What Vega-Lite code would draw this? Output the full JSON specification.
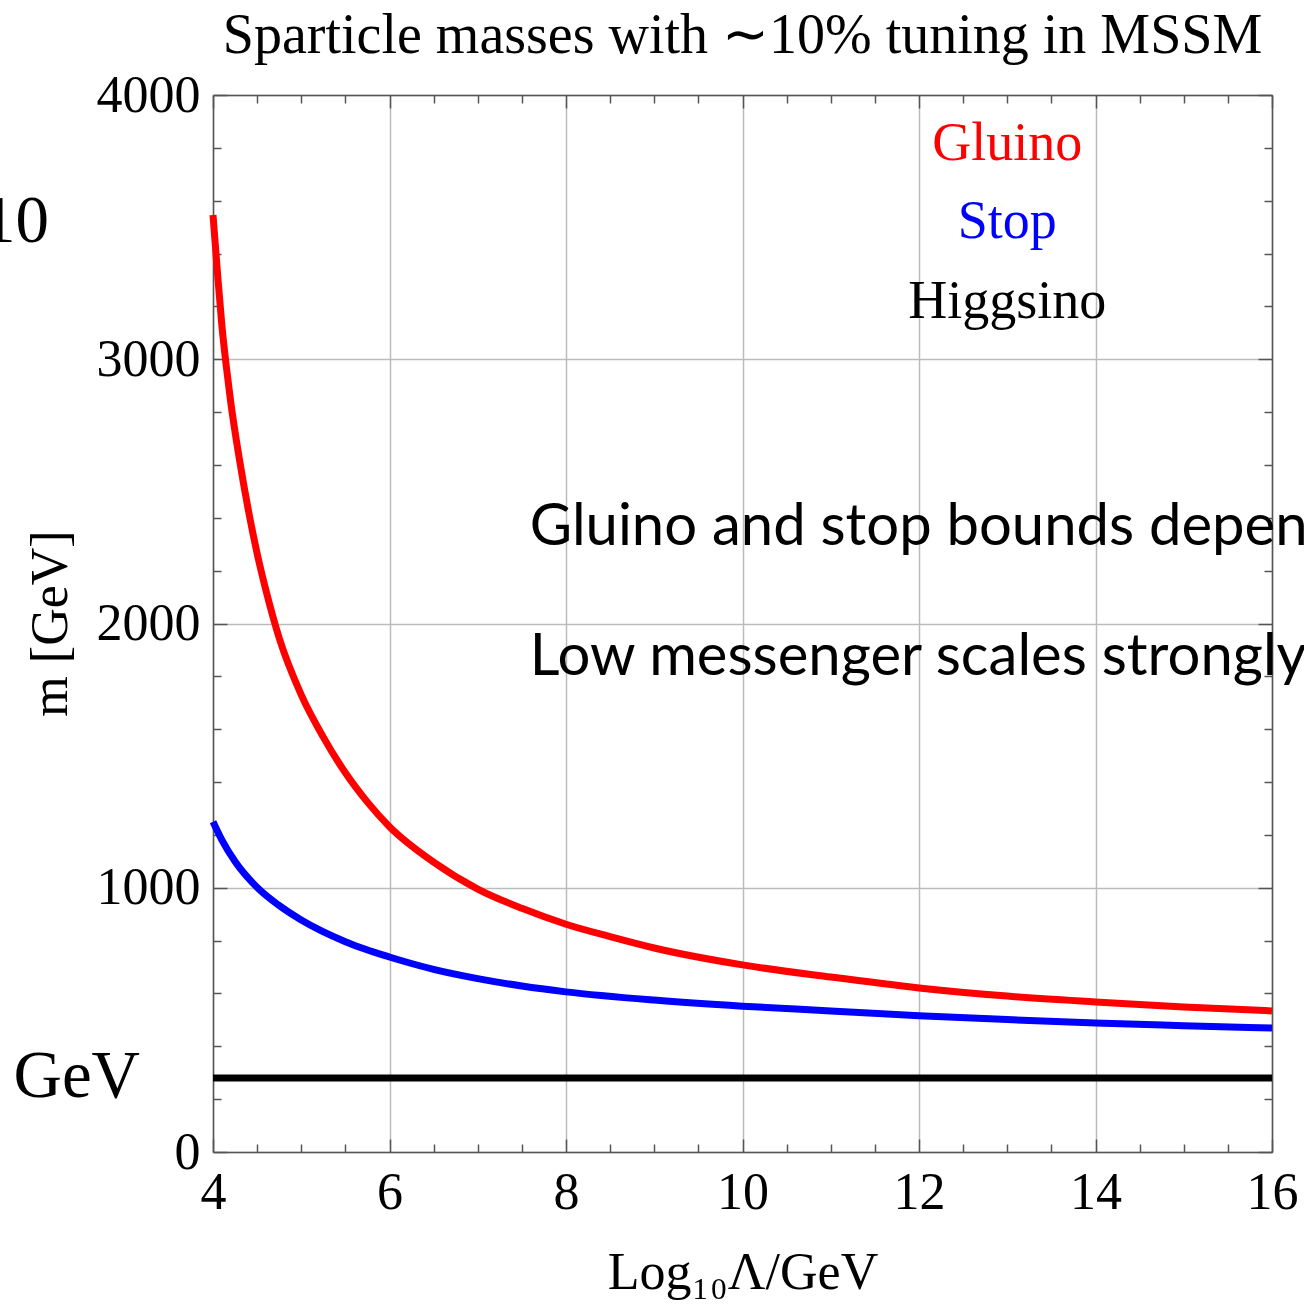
{
  "$schema": "https://vega.github.io/schema/vega-lite/v6.json",
  "autosize": {"type": "none"},
  "width": 1059,
  "height": 1057,
  "padding": {"left": 213, "top": 95, "right": 32, "bottom": 152},
  "background": "white",
  "title": {
    "text": "Sparticle masses with ∼10% tuning in MSSM",
    "font": "Liberation Serif",
    "fontSize": 56,
    "fontWeight": "normal",
    "color": "black",
    "anchor": "middle",
    "frame": "group",
    "orient": "top",
    "offset": 4
  },
  "config": {
    "view": {"stroke": null},
    "axis": {
      "labelFont": "Liberation Serif",
      "labelFontSize": 52,
      "labelColor": "black",
      "titleFont": "Liberation Serif",
      "titleFontSize": 52,
      "titleFontWeight": "normal",
      "titleColor": "black",
      "domainColor": "#555555",
      "domainWidth": 1.5,
      "tickColor": "#555555",
      "tickWidth": 1.5,
      "gridColor": "#bbbbbb",
      "gridWidth": 1.5,
      "labelFlush": false,
      "labelOverlap": false
    }
  },
  "datasets": {
    "curves": [
      {"series": "Gluino", "logL": 4.0, "m": 3546},
      {"series": "Gluino", "logL": 4.05, "m": 3330},
      {"series": "Gluino", "logL": 4.1, "m": 3130},
      {"series": "Gluino", "logL": 4.15, "m": 2975},
      {"series": "Gluino", "logL": 4.2, "m": 2840},
      {"series": "Gluino", "logL": 4.3, "m": 2620},
      {"series": "Gluino", "logL": 4.4, "m": 2430},
      {"series": "Gluino", "logL": 4.5, "m": 2265},
      {"series": "Gluino", "logL": 4.6, "m": 2125},
      {"series": "Gluino", "logL": 4.75, "m": 1945},
      {"series": "Gluino", "logL": 5.0, "m": 1730},
      {"series": "Gluino", "logL": 5.25, "m": 1570},
      {"series": "Gluino", "logL": 5.5, "m": 1435},
      {"series": "Gluino", "logL": 5.75, "m": 1324},
      {"series": "Gluino", "logL": 6.0, "m": 1231},
      {"series": "Gluino", "logL": 6.5, "m": 1097},
      {"series": "Gluino", "logL": 7.0, "m": 995},
      {"series": "Gluino", "logL": 7.5, "m": 922},
      {"series": "Gluino", "logL": 8.0, "m": 862},
      {"series": "Gluino", "logL": 8.5, "m": 815},
      {"series": "Gluino", "logL": 9.0, "m": 772},
      {"series": "Gluino", "logL": 10.0, "m": 708},
      {"series": "Gluino", "logL": 11.0, "m": 662},
      {"series": "Gluino", "logL": 12.0, "m": 621},
      {"series": "Gluino", "logL": 13.0, "m": 590},
      {"series": "Gluino", "logL": 14.0, "m": 568},
      {"series": "Gluino", "logL": 15.0, "m": 549},
      {"series": "Gluino", "logL": 16.0, "m": 534},
      {"series": "Stop", "logL": 4.0, "m": 1250},
      {"series": "Stop", "logL": 4.1, "m": 1181},
      {"series": "Stop", "logL": 4.25, "m": 1099},
      {"series": "Stop", "logL": 4.51, "m": 998},
      {"series": "Stop", "logL": 4.74, "m": 935},
      {"series": "Stop", "logL": 5.0, "m": 878},
      {"series": "Stop", "logL": 5.5, "m": 796},
      {"series": "Stop", "logL": 5.99, "m": 739},
      {"series": "Stop", "logL": 6.18, "m": 720},
      {"series": "Stop", "logL": 6.5, "m": 691},
      {"series": "Stop", "logL": 7.0, "m": 656},
      {"series": "Stop", "logL": 7.5, "m": 628},
      {"series": "Stop", "logL": 8.0, "m": 606},
      {"series": "Stop", "logL": 9.0, "m": 575},
      {"series": "Stop", "logL": 10.0, "m": 552},
      {"series": "Stop", "logL": 11.0, "m": 534},
      {"series": "Stop", "logL": 12.0, "m": 516},
      {"series": "Stop", "logL": 13.0, "m": 501},
      {"series": "Stop", "logL": 14.0, "m": 488},
      {"series": "Stop", "logL": 15.0, "m": 478},
      {"series": "Stop", "logL": 16.0, "m": 469},
      {"series": "Higgsino", "logL": 4.0, "m": 280},
      {"series": "Higgsino", "logL": 16.0, "m": 280}
    ],
    "legendLabels": [
      {"series": "Gluino", "logL": 13.0, "m": 3754},
      {"series": "Stop", "logL": 13.0, "m": 3459},
      {"series": "Higgsino", "logL": 13.0, "m": 3156}
    ],
    "notes": [
      {"note": "Gluino and stop bounds depend on the messenger scale", "logL": 7.59, "m": 2297},
      {"note": "Low messenger scales strongly preferred", "logL": 7.59, "m": 1805}
    ],
    "fragments": [
      {"frag": "10", "logL": 2.142, "m": 3444},
      {"frag": "GeV", "logL": 3.173, "m": 208}
    ]
  },
  "layer": [
    {
      "data": {"name": "curves"},
      "mark": {"type": "line", "strokeWidth": 7, "clip": false, "interpolate": "monotone"},
      "encoding": {
        "x": {
          "field": "logL", "type": "quantitative",
          "scale": {"domain": [4, 16], "nice": false, "zero": false},
          "axis": {
            "orient": "bottom",
            "values": [4,4.5,5,5.5,6,6.5,7,7.5,8,8.5,9,9.5,10,10.5,11,11.5,12,12.5,13,13.5,14,14.5,15,15.5,16],
            "labelExpr": "datum.value % 2 === 0 ? format(datum.value, 'd') : ''",
            "grid": true,
            "gridOpacity": {"condition": {"test": "datum.value % 2 === 0", "value": 1}, "value": 0},
            "tickSize": {"condition": {"test": "datum.value % 2 === 0", "value": -13}, "value": -8},
            "labelPadding": 28,
            "title": "Log₁₀Λ/GeV",
            "titleBaseline": "alphabetic",
            "titleY": 136,
            "titleAnchor": "middle"
          }
        },
        "y": {
          "field": "m", "type": "quantitative",
          "scale": {"domain": [0, 4000], "nice": false},
          "axis": {
            "orient": "left",
            "values": [0,200,400,600,800,1000,1200,1400,1600,1800,2000,2200,2400,2600,2800,3000,3200,3400,3600,3800,4000],
            "labelExpr": "datum.value % 1000 === 0 ? format(datum.value, 'd') : ''",
            "grid": true,
            "gridOpacity": {"condition": {"test": "datum.value % 1000 === 0", "value": 1}, "value": 0},
            "tickSize": {"condition": {"test": "datum.value % 1000 === 0", "value": -14}, "value": -8},
            "labelPadding": 27,
            "labelBaseline": "middle",
            "title": "m [GeV]",
            "titleAngle": -90,
            "titleBaseline": "alphabetic",
            "titleX": -147,
            "titleY": 528
          }
        },
        "color": {
          "field": "series", "type": "nominal",
          "scale": {"domain": ["Gluino", "Stop", "Higgsino"], "range": ["#ff0000", "#0000ff", "#000000"]},
          "legend": null
        },
        "detail": {"field": "series"}
      }
    },
    {
      "data": {"name": "legendLabels"},
      "mark": {"type": "text", "font": "Liberation Serif", "fontSize": 54, "baseline": "alphabetic", "align": "center"},
      "encoding": {
        "x": {
          "field": "logL", "type": "quantitative",
          "axis": {
            "orient": "top",
            "values": [4,4.5,5,5.5,6,6.5,7,7.5,8,8.5,9,9.5,10,10.5,11,11.5,12,12.5,13,13.5,14,14.5,15,15.5,16],
            "labels": false,
            "grid": false,
            "title": null,
            "tickSize": {"condition": {"test": "datum.value % 2 === 0", "value": -13}, "value": -8}
          }
        },
        "y": {
          "field": "m", "type": "quantitative",
          "axis": {
            "orient": "right",
            "values": [0,200,400,600,800,1000,1200,1400,1600,1800,2000,2200,2400,2600,2800,3000,3200,3400,3600,3800,4000],
            "labels": false,
            "grid": false,
            "title": null,
            "tickSize": {"condition": {"test": "datum.value % 1000 === 0", "value": -14}, "value": -8}
          }
        },
        "text": {"field": "series"},
        "color": {"field": "series", "type": "nominal", "legend": null}
      }
    },
    {
      "data": {"name": "notes"},
      "mark": {"type": "text", "font": "Lato", "fontSize": 58, "baseline": "alphabetic", "align": "left", "color": "black"},
      "encoding": {
        "x": {"field": "logL", "type": "quantitative", "axis": null},
        "y": {"field": "m", "type": "quantitative", "axis": null},
        "text": {"field": "note"}
      }
    },
    {
      "data": {"name": "fragments"},
      "mark": {"type": "text", "font": "Liberation Serif", "fontSize": 67, "baseline": "alphabetic", "align": "right", "color": "black"},
      "encoding": {
        "x": {"field": "logL", "type": "quantitative", "axis": null},
        "y": {"field": "m", "type": "quantitative", "axis": null},
        "text": {"field": "frag"}
      }
    }
  ],
  "resolve": {"axis": {"x": "independent", "y": "independent"}}
}
